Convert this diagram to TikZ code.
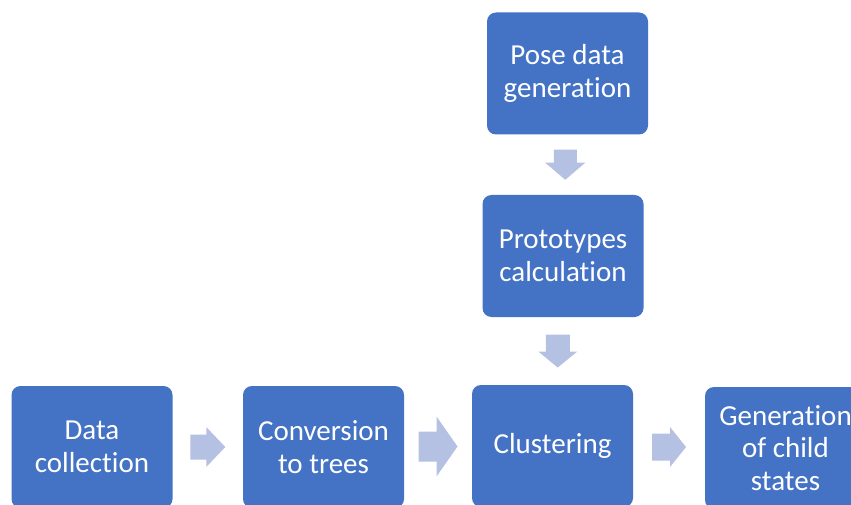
\documentclass[tikz,border=0pt]{standalone}
\usepackage{fontspec}
\setmainfont{Carlito}[Ligatures=NoCommon]
\usetikzlibrary{calc}
\definecolor{boxblue}{HTML}{4472C4}
\definecolor{arrowblue}{HTML}{B4C1E2}
\tikzset{
  stage/.style={rectangle, rounded corners=9pt, fill=boxblue, text=white,
    minimum width=161pt, minimum height=122pt, inner sep=0pt, align=center,
    font=\fontsize{29}{32.5}\selectfont},
  arrowfill/.style={fill=arrowblue}
}
% block arrow pointing right: centre, length, shaft width, head width, head length
\newcommand\hblock[5]{%
  \fill[arrowfill, shift={(#1)}] ({-#2/2},{-#3/2}) -- ({#2/2-#5},{-#3/2}) -- ({#2/2-#5},{-#4/2})
    -- ({#2/2},0) -- ({#2/2-#5},{#4/2}) -- ({#2/2-#5},{#3/2}) -- ({-#2/2},{#3/2}) -- cycle;}
% block arrow pointing down (y axis runs downwards)
\newcommand\vblock[5]{%
  \fill[arrowfill, shift={(#1)}] ({-#3/2},{-#2/2}) -- ({-#3/2},{#2/2-#5}) -- ({-#4/2},{#2/2-#5})
    -- (0,{#2/2}) -- ({#4/2},{#2/2-#5}) -- ({#3/2},{#2/2-#5}) -- ({#3/2},{-#2/2}) -- cycle;}
\begin{document}
\begin{tikzpicture}[x=1pt,y=-1pt]
  \clip (0,0) rectangle (851,505);
  \fill[white] (0,0) rectangle (851,505);

  \node[stage] (pose)  at (567.5,73.5) {Pose data\\generation};
  \node[stage] (proto) at (563,256)    {Prototypes\\calculation};
  \node[stage] (dc)    at (92,447)     {Data\\collection};
  \node[stage] (ct)    at (323.5,447)  {Conversion\\to trees};
  \node[stage] (cl)    at (552.5,446)  {Clustering};
  \node[stage] (gen)   at (785.5,448)  {Generation\\of child\\states};

  \coordinate (d1) at ($(pose.south)!0.5!(proto.north)$);
  \coordinate (d2) at ($(proto.south)!0.5!(cl.north)$);
  \coordinate (r1) at ($(dc.east)!0.5!(ct.west)$);
  \coordinate (r2) at ($(ct.east)!0.5!(cl.west)$);
  \coordinate (r3) at ($(cl.east)!0.5!(gen.west)$);

  \vblock{d1}{30}{23}{40}{17}
  \vblock{d2}{33}{24}{39}{16}
  \hblock{r1}{35}{25}{40}{19}
  \hblock{r2}{39}{30}{60}{21}
  \hblock{r3}{34}{27}{40}{16}
\end{tikzpicture}
\end{document}
